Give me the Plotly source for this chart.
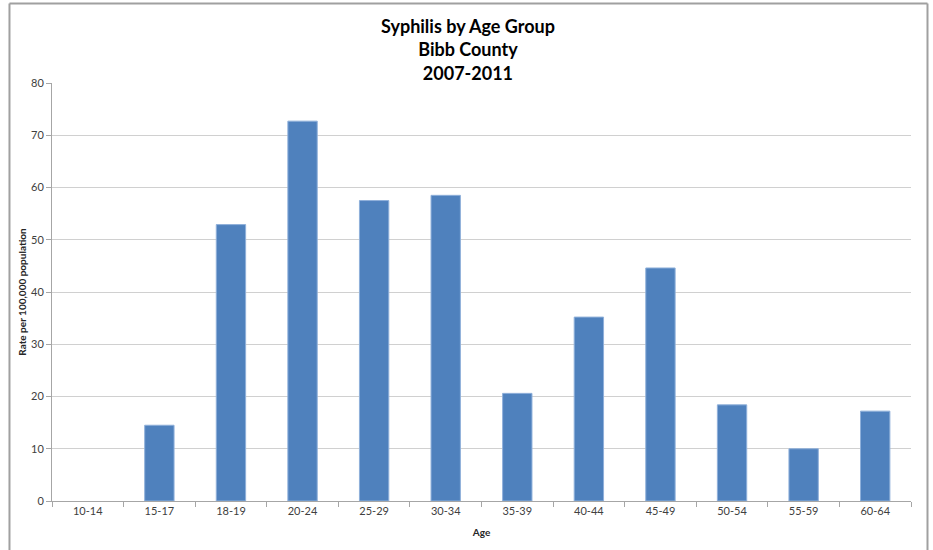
import plotly.graph_objects as go

age_groups = ["10-14", "15-17", "18-19", "20-24", "25-29", "30-34",
              "35-39", "40-44", "45-49", "50-54", "55-59", "60-64"]
rates = [0, 14.5, 52.9, 72.7, 57.5, 58.5, 20.6, 35.2, 44.6, 18.4, 10.0, 17.2]
y_ticks = [0, 10, 20, 30, 40, 50, 60, 70, 80]

FONT = "Lato, Calibri, Carlito, sans-serif"

fig = go.Figure()
fig.add_trace(go.Bar(
    x=age_groups, y=rates,
    marker=dict(color="#4F81BD",
                line=dict(color="#8FB0DA", width=[0 if v == 0 else 1 for v in rates])),
))

border = dict(color="#A0A0A0", width=2)
bx0, bx1, by0, by1 = -0.0495, 1.0192, -0.14, 1.19

fig.update_layout(
    width=933, height=550,
    margin=dict(l=52, r=22, t=83, b=49, autoexpand=False),
    paper_bgcolor="white", plot_bgcolor="white",
    showlegend=False,
    bargap=0.59,
    font=dict(family=FONT, color="#404040"),
    xaxis=dict(
        type="category", automargin=False,
        tickson="boundaries",
        ticks="outside", ticklen=5, tickcolor="#A6A6A6",
        showline=True, linecolor="#A6A6A6", linewidth=1,
        showgrid=False,
        tickfont=dict(size=11, color="#404040"),
        title=dict(text="<b>Age</b>", font=dict(size=10, color="#262626"), standoff=12),
    ),
    yaxis=dict(
        range=[0, 80], tickvals=y_ticks, automargin=False,
        ticks="outside", ticklen=5, tickcolor="#A6A6A6",
        showline=True, linecolor="#A6A6A6", linewidth=1,
        showgrid=True, gridcolor="#D0D0D0", gridwidth=1,
        zeroline=False,
        tickfont=dict(size=11, color="#404040"),
        title=dict(text="<b>Rate per 100,000 population</b>", font=dict(size=10, color="#262626"), standoff=2),
    ),
    annotations=[dict(
        text="<b>Syphilis by Age Group<br>Bibb County<br>2007-2011</b>",
        xref="paper", yref="paper", x=0.484, y=1.168,
        xanchor="center", yanchor="top", showarrow=False,
        font=dict(size=18, color="#000000", family=FONT),
    )],
    shapes=[
        dict(type="line", xref="paper", yref="paper", x0=bx0, x1=bx1, y0=by1, y1=by1, line=border, layer="above"),
        dict(type="line", xref="paper", yref="paper", x0=bx0, x1=bx0, y0=by0, y1=by1, line=border, layer="above"),
        dict(type="line", xref="paper", yref="paper", x0=bx1, x1=bx1, y0=by0, y1=by1, line=border, layer="above"),
    ],
)

fig.write_html(
    "out.html",
    config={"displayModeBar": False},
    post_script="document.body.style.margin='0';document.body.style.overflow='hidden';",
)
